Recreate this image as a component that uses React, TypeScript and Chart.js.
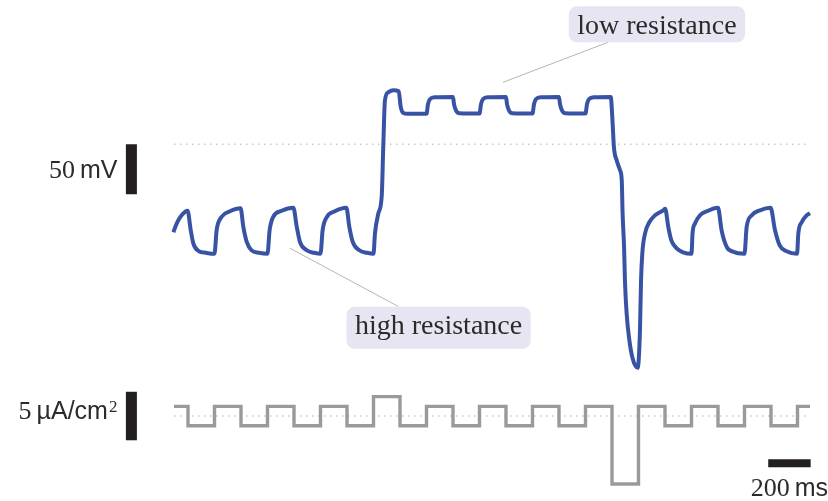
import { useEffect, useRef } from "react";
import { Chart, registerables } from "chart.js";

Chart.register(...registerables);

// ---------- data (time in ms, voltage in mV relative to dotted reference, current in µA/cm²) ----------
const voltageTimes = [
  56, 72, 95, 123, 138, 150, 174, 210, 250,
  260, 284, 323, 373, 386, 402, 425, 460, 500,
  510, 527, 567, 622, 638, 653, 685, 720, 750,
  760, 779, 818, 872, 886, 902, 933, 970, 1000,
  1007, 1023, 1039, 1046, 1054, 1070, 1093, 1119, 1128, 1140, 1160,
  1250, 1257, 1266, 1290, 1375, 1380, 1389, 1405, 1500,
  1507, 1516, 1540, 1625, 1630, 1639, 1655, 1750,
  1757, 1766, 1790, 1875, 1880, 1889, 1905, 2000,
  2007, 2016, 2040, 2119,
  2128, 2134, 2147, 2163, 2171, 2175, 2182, 2186, 2194, 2207, 2222, 2246,
  2257, 2262, 2268, 2281, 2301, 2328, 2367, 2376,
  2390, 2405, 2430, 2460, 2500,
  2505, 2517, 2540, 2572, 2625,
  2642, 2666, 2697, 2750,
  2760, 2784, 2823, 2873,
  2894, 2916, 2949, 2998,
  3004, 3020, 3043, 3059,
];
const voltageValues = [
  -88, -79, -71, -66.5, -86, -99, -106.5, -108.5, -109.5,
  -86, -72.5, -67, -64, -82.5, -97.5, -106, -108.5, -109.5,
  -86, -72.5, -66.5, -63.5, -82.5, -97.5, -106, -108.5, -109.5,
  -86, -73, -67, -63.5, -82.5, -97.5, -106, -108.5, -109.5,
  -89, -69, -51, -3, 44, 52, 54, 53, 38, 31.5, 30.5,
  30.5, 40, 45, 47, 47.3, 40, 34, 31, 30.7,
  40, 45, 47, 47.3, 40, 34, 31, 30.7,
  40, 45, 47, 47.3, 40, 34, 31, 30.7,
  40, 45, 47, 47.3,
  20.7, -2.7, -16, -26, -36, -69, -103, -136, -169, -196, -214, -223.5,
  -186, -136, -109, -89, -78, -71, -66, -64.5,
  -82, -96, -104, -108, -109.5,
  -89, -79, -71, -67, -63.5,
  -86, -102.5, -107.5, -109.5,
  -83, -71, -66, -63.5,
  -86, -101, -107, -109.5,
  -89, -78, -71, -69,
];
const currentTimes = [
  59, 125, 250, 375, 500, 625, 750, 875, 1000, 1125, 1250, 1375, 1500,
  1625, 1750, 1875, 2000, 2125, 2250, 2375, 2500, 2625, 2750, 2875, 3000, 3059,
];
const currentValues = [
  1, -1, 1, -1, 1, -1, 1, -1, 2, -1, 1, -1, 1,
  -1, 1, -1, 1, -7, 1, -1, 1, -1, 1, -1, 1, 1,
];
const referenceSpan = [59, 3045];

// scale bars (in data units)
const scaleBarTime = -142;
const voltageBar = [0, -50];
const currentBar = [-2.5, 2.5];
const timeBar = [2862, 3062];
const timeBarLevel = -319;
const voltageBarLabel = ["50", "mV"];
const currentBarLabel = ["5", "µA/cm", "2"];
const timeBarLabel = ["200", "ms"];

// annotations: box centre and leader line (data units)
const annotationTexts = ["low resistance", "high resistance"];
const annotationAnchors = [
  { t: 2337, v: 120 },
  { t: 1307, v: -183.5 },
];
const annotationLeaders = [
  { t0: 1611, v0: 62, t1: 2106, v1: 102 },
  { t0: 606, v0: -104, t1: 1116, v1: -162 },
];

// axis ranges
const X_MIN = -761.8;
const X_MAX = 3143.9;
const V_MAX = 144.3;
const V_MIN = -356.7;
const I_MAX = 42.89;
const I_MIN = -8.76;

const BLUE = "#3853a4";
const GREY = "#9a9a9e";
const DOT = "#c4c4c4";
const INK = "#231f20";
const TEXT = "#2b2b2b";
const BOX = "#e7e5f2";
const SERIF = '"Liberation Serif", "Times New Roman", serif';
const SANS = '"Liberation Sans", Arial, sans-serif';

type Run = { text: string; font: string; dy?: number; gap?: number };

function drawRuns(ctx: CanvasRenderingContext2D, runs: Run[], x: number, baseline: number, align: "right" | "center") {
  let total = 0;
  const widths = runs.map((r) => {
    ctx.font = r.font;
    const w = ctx.measureText(r.text).width;
    total += w + (r.gap || 0);
    return w;
  });
  let cx = align === "right" ? x - total : x - total / 2;
  ctx.textAlign = "left";
  ctx.textBaseline = "alphabetic";
  ctx.fillStyle = TEXT;
  runs.forEach((r, i) => {
    cx += r.gap || 0;
    ctx.font = r.font;
    ctx.fillText(r.text, cx, baseline + (r.dy || 0));
    cx += widths[i];
  });
}

const overlayPlugin = {
  id: "overlay",
  afterDatasetsDraw(chart: any) {
    const ctx: CanvasRenderingContext2D = chart.ctx;
    const xs = chart.scales.x;
    const yv = chart.scales.yV;
    const yi = chart.scales.yI;
    ctx.save();

    // annotations
    annotationTexts.forEach((text, i) => {
      const ld = annotationLeaders[i];
      ctx.strokeStyle = "#b5b5b5";
      ctx.lineWidth = 1;
      ctx.beginPath();
      ctx.moveTo(xs.getPixelForValue(ld.t0), yv.getPixelForValue(ld.v0));
      ctx.lineTo(xs.getPixelForValue(ld.t1), yv.getPixelForValue(ld.v1));
      ctx.stroke();

      ctx.font = `28px ${SERIF}`;
      const m = ctx.measureText(text);
      const w = m.width;
      const asc = m.actualBoundingBoxAscent;
      const desc = m.actualBoundingBoxDescent;
      const cx = xs.getPixelForValue(annotationAnchors[i].t);
      const cy = yv.getPixelForValue(annotationAnchors[i].v);
      const bw = w + 17;
      const bh = asc + desc + 17;
      ctx.fillStyle = BOX;
      ctx.beginPath();
      (ctx as any).roundRect(cx - bw / 2, cy - bh / 2, bw, bh, 8);
      ctx.fill();
      ctx.fillStyle = TEXT;
      ctx.textAlign = "left";
      ctx.textBaseline = "alphabetic";
      ctx.fillText(text, cx - w / 2, cy + (asc - desc) / 2);
    });

    // scale bar labels
    const barX = xs.getPixelForValue(scaleBarTime);
    const vMid = (yv.getPixelForValue(voltageBar[0]) + yv.getPixelForValue(voltageBar[1])) / 2;
    drawRuns(
      ctx,
      [
        { text: voltageBarLabel[0], font: `26px ${SERIF}` },
        { text: voltageBarLabel[1], font: `25px ${SANS}`, gap: 5 },
      ],
      barX - 14,
      vMid + 9,
      "right"
    );
    const iMid = (yi.getPixelForValue(currentBar[0]) + yi.getPixelForValue(currentBar[1])) / 2;
    drawRuns(
      ctx,
      [
        { text: currentBarLabel[0], font: `26px ${SERIF}` },
        { text: currentBarLabel[1], font: `25px ${SANS}`, gap: 5 },
        { text: currentBarLabel[2], font: `17px ${SERIF}`, dy: -7, gap: 1 },
      ],
      barX - 14,
      iMid + 3,
      "right"
    );
    const tMid = (xs.getPixelForValue(timeBar[0]) + xs.getPixelForValue(timeBar[1])) / 2;
    drawRuns(
      ctx,
      [
        { text: timeBarLabel[0], font: `26px ${SERIF}` },
        { text: timeBarLabel[1], font: `25px ${SANS}`, gap: 5 },
      ],
      tMid,
      yv.getPixelForValue(timeBarLevel) + 33,
      "center"
    );
    ctx.restore();
  },
};

export default function App() {
  const canvasRef = useRef<HTMLCanvasElement | null>(null);

  useEffect(() => {
    if (!canvasRef.current) return;
    const voltage = voltageTimes.map((t, i) => ({ x: t, y: voltageValues[i] }));
    const current = currentTimes.map((t, i) => ({ x: t, y: currentValues[i] }));
    const chart = new Chart(canvasRef.current, {
      type: "line",
      data: {
        datasets: [
          {
            label: "voltage",
            data: voltage,
            yAxisID: "yV",
            borderColor: BLUE,
            borderWidth: 4,
            cubicInterpolationMode: "monotone",
            borderJoinStyle: "round",
            pointRadius: 0,
            fill: false,
          },
          {
            label: "current",
            data: current,
            yAxisID: "yI",
            borderColor: GREY,
            borderWidth: 3.4,
            stepped: true,
            pointRadius: 0,
            fill: false,
          },
          {
            label: "V reference",
            data: referenceSpan.map((t) => ({ x: t, y: 0 })),
            yAxisID: "yV",
            borderColor: DOT,
            borderWidth: 1.4,
            borderDash: [1.4, 4.6],
            pointRadius: 0,
          },
          {
            label: "I reference",
            data: referenceSpan.map((t) => ({ x: t, y: 0 })),
            yAxisID: "yI",
            borderColor: DOT,
            borderWidth: 1.4,
            borderDash: [1.4, 4.6],
            pointRadius: 0,
          },
          {
            label: "50 mV",
            data: voltageBar.map((v) => ({ x: scaleBarTime, y: v })),
            yAxisID: "yV",
            borderColor: INK,
            borderWidth: 11,
            borderCapStyle: "butt",
            pointRadius: 0,
          },
          {
            label: "5 µA/cm²",
            data: currentBar.map((v) => ({ x: scaleBarTime, y: v })),
            yAxisID: "yI",
            borderColor: INK,
            borderWidth: 11,
            borderCapStyle: "butt",
            pointRadius: 0,
          },
          {
            label: "200 ms",
            data: timeBar.map((t) => ({ x: t, y: timeBarLevel })),
            yAxisID: "yV",
            borderColor: INK,
            borderWidth: 8,
            borderCapStyle: "butt",
            pointRadius: 0,
          },
        ],
      },
      options: {
        animation: false,
        responsive: false,
        events: [],
        layout: { autoPadding: false, padding: 0 },
        plugins: { legend: { display: false }, tooltip: { enabled: false } },
        scales: {
          x: { type: "linear", min: X_MIN, max: X_MAX, display: false },
          yV: { type: "linear", min: V_MIN, max: V_MAX, display: false },
          yI: { type: "linear", min: I_MIN, max: I_MAX, display: false },
        },
      },
      plugins: [overlayPlugin],
    } as any);
    return () => chart.destroy();
  }, []);

  return (
    <div style={{ position: "absolute", left: 0, top: 0, width: 828, height: 501, background: "#fff" }}>
      <canvas ref={canvasRef} width={828} height={501} style={{ display: "block" }} />
    </div>
  );
}
